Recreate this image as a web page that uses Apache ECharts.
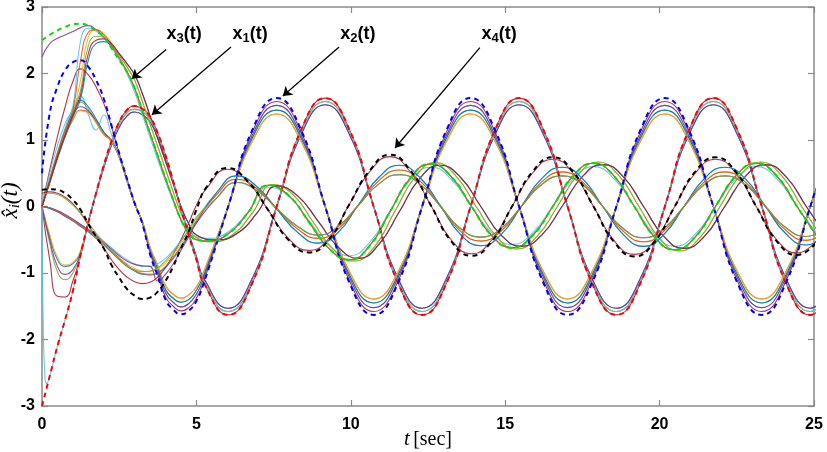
<!DOCTYPE html>
<html><head><meta charset="utf-8">
<script src="https://cdn.jsdelivr.net/npm/echarts/dist/echarts.min.js"></script>
<style>html,body{margin:0;padding:0;background:#fff}#c{width:827px;height:452px}</style>
</head><body><div id="c"></div>
<script>
// ---- time grids (s) ----
// transient part, read every 0.25 s
const T0 = [0,0.25,0.5,0.75,1,1.25,1.5,1.75,2,2.25,2.5,2.75,3,3.25,3.5,3.75,4,4.25,4.5,4.75,5];
// steady part of x1/x2: read at their peaks, troughs, crossings and half-heights
const GA = [5.24,6.03,6.81,7.6,8.39,9.17,9.96,10.74,11.53,12.31,13.1,13.88,14.67,15.45,16.24,17.02,17.81,18.6,19.38,20.17,20.95,21.74,22.52,23.31,24.09,24.88,25.66];
// steady part of x3/x4 (same kind of points)
const GB = [5.34,6.0,6.66,7.32,7.98,8.64,9.29,9.95,10.61,11.27,11.93,12.59,13.25,13.91,14.57,15.22,15.88,16.54,17.2,17.86,18.52,19.18,19.84,20.49,21.15,21.81,22.47,23.13,23.79,24.45,25.11];
const GB15 = [5.49,6.15,6.81,7.47,8.13,8.79,9.44,10.1,10.76,11.42,12.08,12.74,13.4,14.06,14.72,15.37,16.03,16.69,17.35,18.01,18.67,19.33,19.99,20.64,21.3,21.96,22.62,23.28,23.94,24.6,25.26];
const GBL = [5.64,6.3,6.96,7.62,8.28,8.94,9.59,10.25,10.91,11.57,12.23,12.89,13.55,14.21,14.87,15.52,16.18,16.84,17.5,18.16,18.82,19.48,20.14,20.79,21.45,22.11,22.77,23.43,24.09,24.75,25.41];

// ---- reference states (dashed) ----
const X1_0 = [-3.0,-2.55,-2.1,-1.7,-1.27,-0.72,-0.24,0.2,0.62,0.98,1.27,1.45,1.51,1.47,1.35,1.1,0.77,0.38,-0.03,-0.43,-0.8];
const X1_S = [-1.15,-1.63,-1.15,0,1.15,1.63,1.15,0,-1.15,-1.63,-1.15,0,1.15,1.63,1.15,0,-1.15,-1.63,-1.15,0,1.15,1.63,1.15,0,-1.15,-1.63,-1.15];
const X2_0 = [0.5,1.4,1.8,2.05,2.17,2.2,2.1,1.9,1.62,1.22,0.8,0.42,0.05,-0.26,-0.72,-1.05,-1.4,-1.55,-1.62,-1.57,-1.42];
const X2_S = [-1.15,0,1.15,1.63,1.15,0,-1.15,-1.63,-1.15,0,1.15,1.63,1.15,0,-1.15,-1.63,-1.15,0,1.15,1.63,1.15,0,-1.15,-1.63,-1.15,0,1.15];
const X3_0 = [2.5,2.58,2.65,2.7,2.74,2.75,2.72,2.64,2.55,2.38,2.2,2.03,1.78,1.44,1.1,0.76,0.42,0.1,-0.2,-0.4,-0.5];
const X3_S = [-0.52,-0.42,-0.1,0.32,0.17,-0.23,-0.63,-0.8,-0.59,-0.08,0.43,0.64,0.45,0.0,-0.44,-0.62,-0.44,0.0,0.46,0.65,0.46,0.0,-0.46,-0.65,-0.46,0.0,0.46,0.65,0.46,0.0,-0.46];
const X4_0 = [0.25,0.26,0.25,0.2,0.1,-0.05,-0.26,-0.45,-0.63,-0.88,-1.07,-1.24,-1.34,-1.39,-1.37,-1.28,-1.12,-0.9,-0.63,-0.38,-0.05];
const X4_S = [0.3,0.58,0.38,-0.05,-0.5,-0.69,-0.5,0.03,0.54,0.78,0.54,0.02,-0.52,-0.74,-0.52,0.0,0.52,0.74,0.52,0.0,-0.53,-0.75,-0.53,0.0,0.52,0.74,0.52,0.0,-0.52,-0.73,-0.52];

// ---- estimates: transient pieces ----
const X1_T97 = [-0.23,0.19,0.6,0.95,1.23,1.41,1.46,1.43,1.31,1.07,0.75,0.37,-0.03,-0.42,-0.78];
const X1_T94 = [-0.23,0.19,0.58,0.92,1.19,1.36,1.42,1.38,1.27,1.03,0.72,0.36,-0.03,-0.4,-0.75];
const X2_T97 = [0.05,-0.25,-0.7,-1.02,-1.36,-1.5,-1.57,-1.52,-1.38];
const X2_T93 = [0.05,-0.24,-0.67,-0.98,-1.3,-1.44,-1.51,-1.46,-1.32];
const X2_T89 = [0.04,-0.23,-0.64,-0.93,-1.25,-1.38,-1.44,-1.4,-1.26];
const X2_T85 = [0.04,-0.22,-0.61,-0.89,-1.19,-1.32,-1.38,-1.33,-1.21];
const X3_TL  = [2.1,1.9,1.58,1.24,0.9,0.56,0.22,-0.1,-0.33,-0.47];
const X3_TS  = [2.0,1.72,1.38,1.04,0.7,0.38,0.08,-0.19,-0.37,-0.46];
const X3_TL2 = [2.15,1.98,1.7,1.36,1.02,0.68,0.34,0.0,-0.26,-0.43];

// ---- estimates: steady pieces ----
const X1_S97 = [-1.12,-1.58,-1.12,0,1.12,1.58,1.12,0,-1.12,-1.58,-1.12,0,1.12,1.58,1.12,0,-1.12,-1.58,-1.12,0,1.12,1.58,1.12,0,-1.12,-1.58,-1.12];
const X1_S94 = [-1.08,-1.53,-1.08,0,1.08,1.53,1.08,0,-1.08,-1.53,-1.08,0,1.08,1.53,1.08,0,-1.08,-1.53,-1.08,0,1.08,1.53,1.08,0,-1.08,-1.53,-1.08];
const X2_S97 = [-1.12,0,1.12,1.58,1.12,0,-1.12,-1.58,-1.12,0,1.12,1.58,1.12,0,-1.12,-1.58,-1.12,0,1.12,1.58,1.12,0,-1.12,-1.58,-1.12,0,1.12];
const X2_S93 = [-1.07,0,1.07,1.52,1.07,0,-1.07,-1.52,-1.07,0,1.07,1.52,1.07,0,-1.07,-1.52,-1.07,0,1.07,1.52,1.07,0,-1.07,-1.52,-1.07,0,1.07];
const X2_S89 = [-1.03,0,1.03,1.45,1.03,0,-1.03,-1.45,-1.03,0,1.03,1.45,1.03,0,-1.03,-1.45,-1.03,0,1.03,1.45,1.03,0,-1.03,-1.45,-1.03,0,1.03];
const X2_S85 = [-0.98,0,0.98,1.39,0.98,0,-0.98,-1.39,-0.98,0,0.98,1.39,0.98,0,-0.98,-1.39,-0.98,0,0.98,1.39,0.98,0,-0.98,-1.39,-0.98,0,0.98];
const X3_S92 = [-0.48,-0.39,-0.09,0.29,0.16,-0.21,-0.58,-0.74,-0.54,-0.07,0.4,0.59,0.41,0.0,-0.4,-0.57,-0.4,0.0,0.42,0.6,0.42,0.0,-0.42,-0.6,-0.42,0.0,0.42,0.6,0.42,0.0,-0.42];
const X3_S103 = [-0.53,-0.43,-0.1,0.33,0.18,-0.24,-0.65,-0.82,-0.61,-0.08,0.44,0.66,0.46,0.0,-0.45,-0.64,-0.45,0.0,0.47,0.67,0.47,0.0,-0.47,-0.67,-0.47,0.0,0.47,0.67,0.47,0.0,-0.47];
const X3_S97 = [-0.5,-0.41,-0.1,0.31,0.16,-0.22,-0.61,-0.78,-0.57,-0.08,0.42,0.62,0.44,0.0,-0.43,-0.6,-0.43,0.0,0.45,0.63,0.45,0.0,-0.45,-0.63,-0.45,0.0,0.45,0.63,0.45,0.0,-0.45];
const X4_S96 = [0.28,0.56,0.37,-0.05,-0.48,-0.66,-0.48,0.03,0.52,0.75,0.52,0.02,-0.5,-0.71,-0.5,0.0,0.5,0.71,0.5,0.0,-0.51,-0.72,-0.51,0.0,0.5,0.71,0.5,0.0,-0.5,-0.7,-0.5];
const X4_L80 = [0.2,0.46,0.3,-0.05,-0.39,-0.55,-0.39,0.03,0.44,0.62,0.44,0.02,-0.42,-0.59,-0.42,0.0,0.42,0.59,0.42,0.0,-0.42,-0.6,-0.42,0.0,0.42,0.59,0.42,0.0,-0.41,-0.58,-0.41];
const X4_L70 = [0.17,0.41,0.27,-0.04,-0.34,-0.48,-0.34,0.02,0.39,0.55,0.39,0.01,-0.37,-0.52,-0.37,0.0,0.37,0.52,0.37,0.0,-0.37,-0.53,-0.37,0.0,0.37,0.52,0.37,0.0,-0.36,-0.51,-0.36];
const X4_L62 = [0.12,0.36,0.24,-0.04,-0.3,-0.43,-0.3,0.02,0.34,0.48,0.34,0.01,-0.33,-0.46,-0.33,0.0,0.33,0.46,0.33,0.0,-0.33,-0.47,-0.33,0.0,0.33,0.46,0.33,0.0,-0.32,-0.45,-0.32];

// ---- estimates: start-up heads ----
const H1 = [[0,-0.8,-1.35,-1.36,-1.12,-0.74],[0,-0.55,-0.98,-1.1,-1.0,-0.72],[0,-0.45,-0.8,-0.9,-0.86,-0.68],[0,-0.42,-0.76,-0.88,-0.84,-0.66],[0,-0.5,-0.9,-1.02,-0.95,-0.7]];
const DIP_T = [0,0.04,0.1,0.15,0.25,0.5,0.75,1,1.25];
const DIP_V = [0,-1.8,-2.6,-2.66,-2.55,-2.1,-1.7,-1.27,-0.74];
const H2 = [[0,0.55,1.05,1.5,1.88,2.07,1.98,1.8,1.55,1.2,0.8,0.42],[0,0.38,0.75,1.06,1.3,1.45,1.42,1.3,1.12,1.0,0.74,0.38],[0,0.42,0.82,1.18,1.48,1.66,1.38,1.15,1.38,1.08,0.76,0.4],[0,0.4,0.79,1.14,1.42,1.57,1.47,1.28,1.1,0.98,0.76,0.4],[0,0.37,0.74,1.08,1.36,1.5,1.44,1.27,1.08,0.99,0.75,0.39],[0,0.4,0.78,1.13,1.42,1.6,1.5,1.32,1.12,0.97,0.74,0.39],[0,0.36,0.72,1.05,1.32,1.44,1.4,1.26,1.08,0.98,0.74,0.38]];
const H3 = [[2.25,2.45,2.53,2.58,2.63,2.69,2.72,2.66,2.55,2.4,2.22],[0,0.5,0.92,1.25,1.5,2.5,2.68,2.64,2.54,2.4,2.22],[0,0.4,0.8,1.12,1.42,1.9,2.55,2.66,2.6,2.46,2.28],[0,0.35,0.72,1.05,1.35,1.62,2.2,2.45,2.48,2.42,2.3],[0,0.38,0.76,1.1,1.4,1.75,2.42,2.56,2.54,2.44,2.27],[0,0.4,0.8,1.15,1.45,2.2,2.62,2.66,2.58,2.43,2.24],[0,0.37,0.74,1.08,1.38,1.68,2.3,2.5,2.52,2.45,2.3]];
const H4 = [[0.2,0.22,0.2,0.14,0.04,-0.1,-0.28,-0.46,-0.62,-0.8,-0.95,-1.06,-1.13,-1.16,-1.14,-1.06,-0.92,-0.72,-0.5,-0.25,0.02],[0,-0.03,-0.08,-0.14,-0.2,-0.27,-0.34,-0.42,-0.52,-0.62,-0.72,-0.8,-0.86,-0.9,-0.9,-0.86,-0.78,-0.66,-0.52,-0.36,-0.18],[0,-0.02,-0.07,-0.13,-0.2,-0.28,-0.36,-0.45,-0.55,-0.66,-0.77,-0.86,-0.93,-0.97,-0.98,-0.94,-0.85,-0.72,-0.56,-0.39,-0.2],[0,-0.02,-0.06,-0.12,-0.19,-0.27,-0.35,-0.44,-0.54,-0.64,-0.74,-0.82,-0.87,-0.89,-0.9,-1.12,-1.02,-0.86,-0.66,-0.46,-0.25],[0,-0.03,-0.08,-0.15,-0.22,-0.3,-0.38,-0.48,-0.58,-0.69,-0.8,-0.9,-0.97,-1.02,-1.03,-1.0,-0.92,-0.78,-0.62,-0.44,-0.24],[0,-0.02,-0.07,-0.14,-0.21,-0.29,-0.37,-0.46,-0.56,-0.67,-0.78,-0.88,-0.96,-1.01,-1.02,-0.99,-0.9,-0.76,-0.6,-0.42,-0.22],[0.18,0.2,0.18,0.12,0.02,-0.1,-0.25,-0.4,-0.55,-0.68,-0.8,-0.89,-0.95,-0.98,-0.97,-0.92,-0.82,-0.68,-0.52,-0.35,-0.16]];

const C = {blue:'#0072BD', orange:'#D95319', yellow:'#EDB120', purple:'#7E2F8E', green:'#77AC30', cyan:'#4DBEEE', wine:'#A2142F'};

// annotations (data coordinates)
const LABELS = [
  {sub:'3', at:[4.6,2.6],  from:[4.02,2.36],  to:[2.91,1.92]},
  {sub:'1', at:[6.74,2.6], from:[6.12,2.40],  to:[3.56,1.38]},
  {sub:'2', at:[10.23,2.6],from:[9.62,2.40],  to:[7.80,1.66]},
  {sub:'4', at:[14.8,2.6], from:[14.18,2.39], to:[11.43,0.88]}
];

// ---- assemble (concatenation of read pieces only) ----
const TA = T0.concat(GA), TB = T0.concat(GB), TB15 = T0.concat(GB15), TBL = T0.concat(GBL);
const zip = (ts, vs) => ts.map((t, i) => [t, vs[i]]);
const EST = [
  [C.wine,   TA, H1[0].concat(X1_0.slice(6), X1_S)],
  [C.green,  TA, H1[1].concat(X1_T97, X1_S97)],
  [C.blue,   TA, H1[2].concat(X1_T94, X1_S94)],
  [C.yellow, TA, H1[3].concat(X1_T97, X1_S97)],
  [C.purple, TA, H1[4].concat(X1_T94, X1_S94)],
  [C.wine,   TA, H2[0].concat(X2_T97, X2_S97)],
  [C.orange, TA, H2[1].concat(X2_T85, X2_S85)],
  [C.cyan,   TA, H2[2].concat(X2_T93, X2_S93)],
  [C.green,  TA, H2[3].concat(X2_T89, X2_S89)],
  [C.purple, TA, H2[4].concat(X2_T93, X2_S93)],
  [C.blue,   TA, H2[5].concat(X2_T89, X2_S89)],
  [C.yellow, TA, H2[6].concat(X2_T85, X2_S85)],
  [C.purple, TB,   H3[0].concat(X3_0.slice(11), X3_S)],
  [C.cyan,   TB,   H3[1].concat(X3_TS, X3_S92)],
  [C.yellow, TB15, H3[2].concat(X3_TL, X3_S103)],
  [C.blue,   TBL,  H3[3].concat(X3_TL2, X3_S97)],
  [C.green,  TB15, H3[4].concat(X3_TL, X3_S103)],
  [C.orange, TB,   H3[5].concat(X3_0.slice(11), X3_S)],
  [C.wine,   TBL,  H3[6].concat(X3_TL2, X3_S97)],
  [C.wine,   TB,  H4[0].concat(X4_S96)],
  [C.cyan,   TBL, H4[1].concat(X4_L80)],
  [C.yellow, TBL, H4[2].concat(X4_L70)],
  [C.purple, TBL, H4[3].concat(X4_L62)],
  [C.blue,   TBL, H4[4].concat(X4_L80)],
  [C.orange, TBL, H4[5].concat(X4_L70)],
  [C.green,  TBL, H4[6].concat(X4_L62)]
];

const series = [];
function line(data, color, ref) {
  series.push({type:'line', data:data, showSymbol:false, smooth:0.5, clip:true,
    lineStyle: ref ? {width:2, color:color, type:[5,4]} : {width:1.1, color:color, opacity:0.85},
    itemStyle:{color:color}, z: ref ? 3 : 2, silent:true, animation:false});
}
EST.forEach(e => line(zip(e[1], e[2]), e[0], false));
line(zip(DIP_T.concat(T0.slice(6), GA), DIP_V.concat(X1_T97, X1_S97)), C.cyan, false);
line(zip(TA, X1_0.concat(X1_S)), '#ff0000', true);
line(zip(TA, X2_0.concat(X2_S)), '#0000ff', true);
line(zip(TB, X3_0.concat(X3_S)), '#00e000', true);
line(zip(TB, X4_0.concat(X4_S)), '#000000', true);

series.push({
  type:'line', data:[], silent:true, animation:false, z:5,
  markLine:{silent:true, animation:false, symbol:['none','arrow'], symbolSize:9,
    lineStyle:{color:'#000', width:1.3, type:'solid'}, label:{show:false},
    data: LABELS.map(l => [{coord:l.from}, {coord:l.to}])},
  markPoint:{silent:true, animation:false, symbol:'circle', symbolSize:0,
    label:{show:true, position:'inside',
      formatter: p => '{m|x}{s|' + p.name + '}{m|(t)}',
      rich:{m:{fontFamily:'Liberation Sans', fontWeight:'bold', fontSize:18, color:'#000', lineHeight:22, verticalAlign:'middle'},
            s:{fontFamily:'Liberation Sans', fontWeight:'bold', fontSize:13, color:'#000', lineHeight:22, verticalAlign:'bottom'}}},
    data: LABELS.map(l => ({name:l.sub, coord:l.at}))}
});

const axisGray = '#8a8a8a';
const lbl = {color:'#000', fontWeight:'bold', fontSize:16, fontFamily:'Liberation Sans'};
const boxAxis = {axisLine:{show:true, onZero:false, lineStyle:{color:axisGray, width:1.5}},
  axisTick:{show:true, inside:true, length:6, lineStyle:{color:axisGray, width:1.2}}, splitLine:{show:false}};
const option = {
  animation:false,
  grid:{left:42, right:13, top:7, bottom:46, containLabel:false, outerBoundsMode:'none'},
  xAxis:[
    Object.assign({type:'value', min:0, max:25, interval:5, position:'bottom',
     axisLabel:Object.assign({margin:11}, lbl),
     name:'{i|t} {n|[sec]}', nameLocation:'middle', nameGap:23, nameMoveOverlap:false,
     nameTextStyle:{verticalAlign:'top', rich:{i:{fontFamily:'Liberation Serif', fontStyle:'italic', fontSize:21, color:'#000'},
                          n:{fontFamily:'Liberation Serif', fontSize:20, color:'#000'}}}}, boxAxis),
    Object.assign({type:'value', min:0, max:25, interval:5, position:'top', axisLabel:{show:false}}, boxAxis)
  ],
  yAxis:[
    Object.assign({type:'value', min:-3, max:3, interval:1, position:'left',
     axisLabel:Object.assign({margin:7}, lbl),
     name:'{v|x\u0302}{s|i}{v|(t)}', nameLocation:'middle', nameGap:19, nameRotate:90, nameMoveOverlap:false,
     nameTextStyle:{verticalAlign:'bottom', padding:[0,0,0,12], rich:{v:{fontFamily:'Liberation Serif', fontStyle:'italic', fontSize:23, color:'#000', lineHeight:24},
                          s:{fontFamily:'Liberation Serif', fontStyle:'italic', fontSize:15, color:'#000', lineHeight:24, verticalAlign:'bottom'}}}}, boxAxis),
    Object.assign({type:'value', min:-3, max:3, interval:1, position:'right', axisLabel:{show:false}}, boxAxis)
  ],
  series: series
};
const chart = echarts.init(document.getElementById('c'));
chart.setOption(option);
</script></body></html>
